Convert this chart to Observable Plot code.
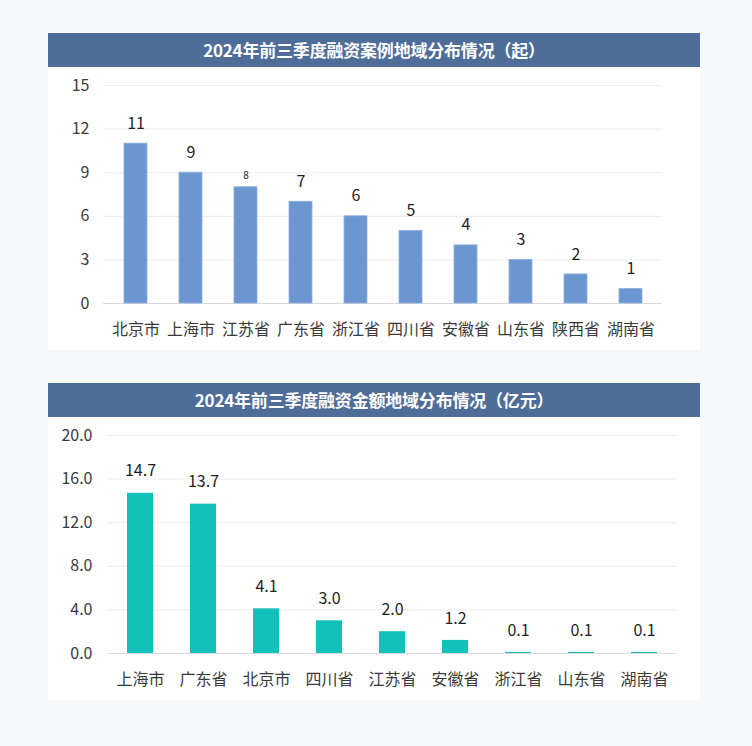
<!DOCTYPE html>
<html>
<head>
<meta charset="utf-8">
<script src="https://cdn.jsdelivr.net/npm/d3@7"></script>
<script src="https://cdn.jsdelivr.net/npm/@observablehq/plot@0.6"></script>
<style>
  html, body { margin: 0; padding: 0; background: #f7f8fa; width: 752px; height: 746px; overflow: hidden; }
  .panel { position: absolute; left: 48px; width: 652px; background: #ffffff; }
  .head { height: 34px; line-height: 34px; background: #4e6d98; color: #ffffff; text-align: center;
          font-family: "Noto Sans CJK SC", sans-serif; font-weight: bold; font-size: 17px; letter-spacing: -0.2px; }
  .panel svg { display: block; }
</style>
</head>
<body>
<div class="panel" id="p1" style="top:33px"><div class="head">2024年前三季度融资案例地域分布情况（起）</div></div>
<div class="panel" id="p2" style="top:383px"><div class="head">2024年前三季度融资金额地域分布情况（亿元）</div></div>
<script>
const regions1 = ["北京市","上海市","江苏省","广东省","浙江省","四川省","安徽省","山东省","陕西省","湖南省"];
const cases = [11, 9, 8, 7, 6, 5, 4, 3, 2, 1];
const yTicks1 = [0, 3, 6, 9, 12, 15];

const regions2 = ["上海市","广东省","北京市","四川省","江苏省","安徽省","浙江省","山东省","湖南省"];
const amounts = [14.7, 13.7, 4.1, 3.0, 2.0, 1.2, 0.1, 0.1, 0.1];
const yTicks2 = [0, 4, 8, 12, 16, 20];

const data1 = regions1.map((r, i) => ({region: r, value: cases[i]}));
const data2 = regions2.map((r, i) => ({region: r, value: amounts[i]}));

const font = "'Noto Sans CJK SC', sans-serif";

const chart1 = Plot.plot({
  width: 652, height: 283,
  marginLeft: 55, marginRight: 38, marginTop: 18, marginBottom: 47,
  style: {fontFamily: font, fontSize: "16px", color: "#3a3a3a", background: "#ffffff"},
  x: {domain: regions1, paddingInner: 0.59, paddingOuter: 0.295, label: null},
  y: {domain: [0, 15], label: null},
  marks: [
    Plot.gridY(yTicks1, {stroke: "#ececec", strokeOpacity: 1}),
    Plot.ruleY([0], {stroke: "#d9d9d9"}),
    Plot.barY(data1, {x: "region", y: "value", fill: "#6b96d0", stroke: "#8fb0de", strokeWidth: 0.8}),
    Plot.text(data1.filter(d => d.value !== 8), {x: "region", y: "value", text: d => String(d.value), dy: -20, fontSize: 16, fill: "#1f1f1f"}),
    Plot.text(data1.filter(d => d.value === 8), {x: "region", y: "value", text: d => String(d.value), dy: -11, fontSize: 10, fill: "#1f1f1f"}),
    Plot.axisX({tickSize: 0, tickPadding: 20, label: null}),
    Plot.axisY(yTicks1, {tickSize: 0, tickPadding: 14, label: null})
  ]
});
document.getElementById("p1").appendChild(chart1);

const chart2 = Plot.plot({
  width: 652, height: 283,
  marginLeft: 60, marginRight: 24, marginTop: 18, marginBottom: 47,
  style: {fontFamily: font, fontSize: "16px", color: "#3a3a3a", background: "#ffffff"},
  x: {domain: regions2, paddingInner: 0.587, paddingOuter: 0.2935, label: null},
  y: {domain: [0, 20], label: null},
  marks: [
    Plot.gridY(yTicks2, {stroke: "#ececec", strokeOpacity: 1}),
    Plot.ruleY([0], {stroke: "#d9d9d9"}),
    Plot.barY(data2, {x: "region", y: "value", fill: "#12c2b8"}),
    Plot.text(data2, {x: "region", y: "value", text: d => d.value.toFixed(1), dy: -22, fontSize: 16, fill: "#1f1f1f"}),
    Plot.axisX({tickSize: 0, tickPadding: 20, label: null}),
    Plot.axisY(yTicks2, {tickSize: 0, tickPadding: 16, label: null, tickFormat: d => d.toFixed(1)})
  ]
});
document.getElementById("p2").appendChild(chart2);
</script>
</body>
</html>
